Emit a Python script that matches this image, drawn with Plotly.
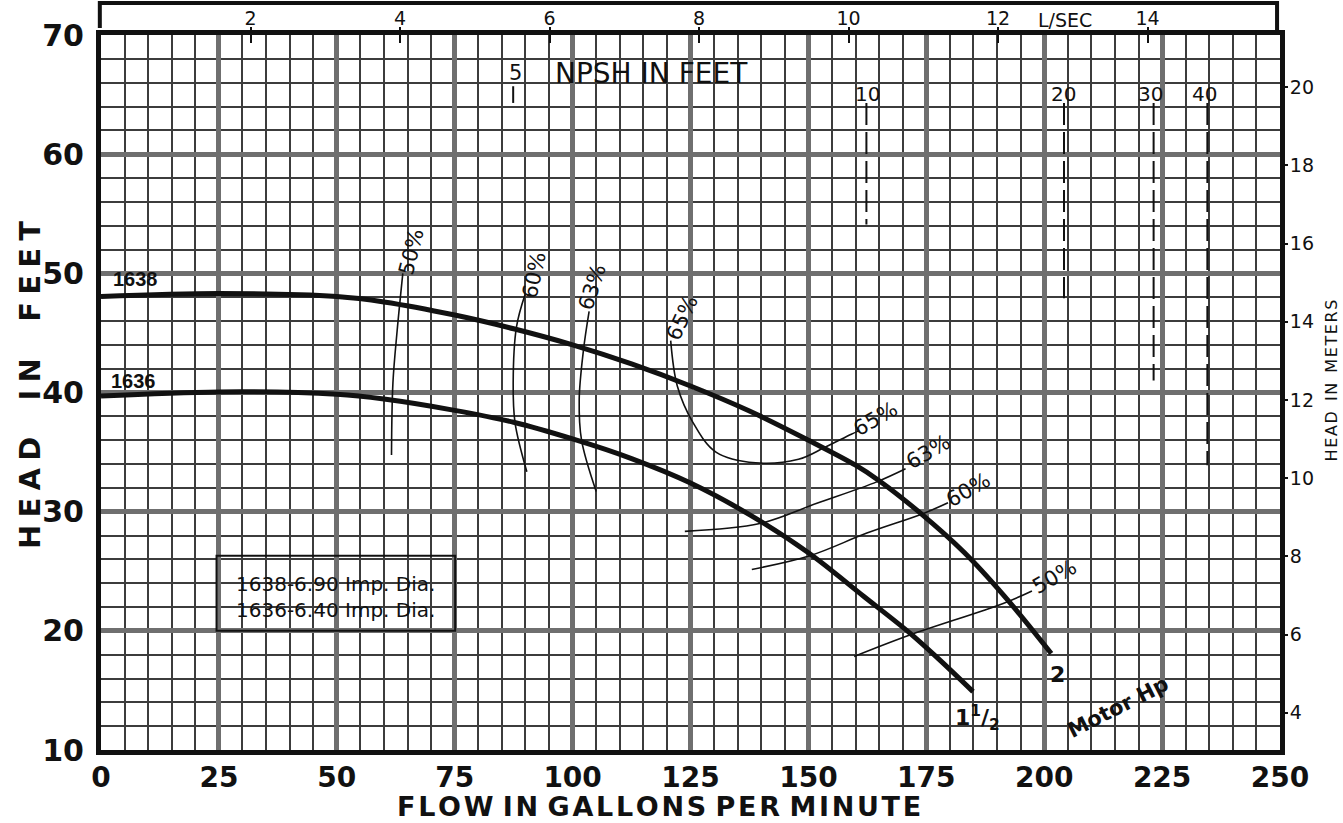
import plotly.graph_objects as go

# ---------------- data ----------------
# Pump curves (flow gpm, head ft)
q_1638 = [0, 25, 50, 60, 75, 87.5, 100, 112.5, 125, 137.5, 150, 160, 165, 174, 183, 191.6, 201.5]
h_1638 = [48.05, 48.3, 48.05, 47.6, 46.5, 45.35, 44.0, 42.4, 40.55, 38.45, 36.0, 33.9, 32.6, 29.8, 26.6, 22.9, 18.1]
q_1636 = [0, 25, 50, 60, 75, 87.5, 100, 112.5, 125, 137.5, 150, 161.7, 171.7, 178, 184.9]
h_1636 = [39.7, 40.05, 39.85, 39.45, 38.5, 37.5, 36.1, 34.45, 32.4, 29.75, 26.55, 22.9, 19.75, 17.5, 14.9]

# Efficiency iso-lines
e50a_q = [64.0, 62.8, 61.9, 61.6]
e50a_h = [50.0, 45.2, 40.8, 34.75]
e60a_q = [89.9, 88.1, 87.4, 87.8, 90.3]
e60a_h = [48.2, 45.5, 40.8, 37.45, 33.35]
e63a_q = [103.5, 102.3, 101.4, 101.9, 105.0]
e63a_h = [46.8, 43.55, 39.4, 36.0, 31.7]
e65_q = [120.8, 122.2, 125.5, 130.4, 138.8, 147.9, 153.5, 159.1, 160.8]
e65_h = [44.35, 40.55, 37.5, 35.0, 34.1, 34.4, 35.4, 36.5, 36.8]
e63b_q = [123.8, 139.7, 151.8, 164.5, 170.6]
e63b_h = [28.35, 29.0, 30.7, 32.5, 33.6]
e60b_q = [138.0, 150.3, 162.4, 174.4, 179.6]
e60b_h = [25.15, 26.3, 28.2, 29.85, 30.75]
e50b_q = [159.7, 171.5, 191.3, 197.4]
e50b_h = [17.85, 19.65, 22.3, 23.35]

# Efficiency labels
eff_text = ["50%", "60%", "63%", "65%", "65%", "63%", "60%", "50%"]
eff_lab_q = [65.8, 91.8, 104.2, 123.4, 164.2, 175.4, 183.9, 202.1]
eff_lab_h = [51.8, 49.9, 48.85, 46.3, 37.8, 35.0, 31.8, 24.55]
eff_lab_ang = [-76, -78, -72, -65, -30, -30, -30, -30]

# NPSH required (ft) markers
npsh_val = [10, 20, 30, 40]
npsh_q = [162.3, 204.2, 223.2, 234.6]
npsh_lab_q = [162.5, 204.0, 222.6, 234.0]
npsh_lab_h = 65.05
npsh_top = [64.3, 64.3, 64.3, 64.3]
npsh_bot = [54.1, 47.9, 41.0, 33.9]
npsh5_q = 87.4
npsh5_top, npsh5_bot = 65.7, 64.3

# Axes
x_ticks = [0, 25, 50, 75, 100, 125, 150, 175, 200, 225, 250]
y_ticks = [10, 20, 30, 40, 50, 60, 70]
lps_ticks = [2, 4, 6, 8, 10, 12, 14]
m_ticks = [4, 6, 8, 10, 12, 14, 16, 18, 20]
GPM_TO_LPS = 0.0630902
FT_TO_M = 0.3048
X_RANGE = [0, 250]
Y_RANGE = [10, 70]

# Legend box
box_q = [24.5, 75.1]
box_h = [20.0, 26.3]
box_lines = ["1638-6.90 Imp. Dia.", "1636-6.40 Imp. Dia."]

# ---------------- figure ----------------
fig = go.Figure()
BLACK = "#111111"

for q, h in [(q_1638, h_1638), (q_1636, h_1636)]:
    fig.add_trace(go.Scatter(x=q, y=h, mode="lines", line=dict(color=BLACK, width=5, shape="spline", smoothing=1.0),
                             hoverinfo="skip", showlegend=False))

for q, h in [(e50a_q, e50a_h), (e60a_q, e60a_h), (e63a_q, e63a_h), (e65_q, e65_h),
             (e63b_q, e63b_h), (e60b_q, e60b_h), (e50b_q, e50b_h)]:
    fig.add_trace(go.Scatter(x=q, y=h, mode="lines", line=dict(color=BLACK, width=1.6, shape="spline", smoothing=1.0),
                             hoverinfo="skip", showlegend=False))

for v, q, t, b in zip(npsh_val, npsh_q, npsh_top, npsh_bot):
    fig.add_trace(go.Scatter(x=[q, q], y=[t, b], mode="lines", line=dict(color=BLACK, width=2, dash="22px,7px"),
                             hoverinfo="skip", showlegend=False))
fig.add_trace(go.Scatter(x=[npsh5_q, npsh5_q], y=[npsh5_top, npsh5_bot], mode="lines",
                         line=dict(color=BLACK, width=2), hoverinfo="skip", showlegend=False))

# invisible anchors for secondary axes
LPS_RANGE = [X_RANGE[0] * GPM_TO_LPS, X_RANGE[1] * GPM_TO_LPS]
M_RANGE = [Y_RANGE[0] * FT_TO_M, Y_RANGE[1] * FT_TO_M]
for xa in ["x2", "x3"]:
    fig.add_trace(go.Scatter(x=LPS_RANGE, y=Y_RANGE, xaxis=xa, yaxis="y", mode="lines", line=dict(width=0),
                             hoverinfo="skip", showlegend=False))
fig.add_trace(go.Scatter(x=X_RANGE, y=M_RANGE, xaxis="x", yaxis="y2", mode="lines", line=dict(width=0),
                         hoverinfo="skip", showlegend=False))

FONT = "DejaVu Sans"
C = dict(xanchor="center", yanchor="middle", showarrow=False)
ann = []
for t, q, h, a in zip(eff_text, eff_lab_q, eff_lab_h, eff_lab_ang):
    ann.append(dict(x=q, y=h, text=t, textangle=a, font=dict(family=FONT, size=21, color=BLACK), **C))

for v, q in zip(npsh_val, npsh_lab_q):
    ann.append(dict(x=q, y=npsh_lab_h, text=str(v), font=dict(family=FONT, size=20, color=BLACK), **C))
ann.append(dict(x=npsh5_q + 0.5, y=66.8, text="5", font=dict(family=FONT, size=21, color=BLACK), **C))
ann.append(dict(x=116.7, y=66.8, text="NPSH IN FEET", font=dict(family=FONT, size=28, color=BLACK), **C))

ann.append(dict(x=7.35, y=49.5, text="<b>1638</b>", font=dict(family="Liberation Sans", size=20, color=BLACK), **C))
ann.append(dict(x=6.9, y=41.0, text="<b>1636</b>", font=dict(family="Liberation Sans", size=20, color=BLACK), **C))

ann.append(dict(x=sum(box_q) / 2, y=23.95, text=box_lines[0], font=dict(family=FONT, size=20, color=BLACK), **C))
ann.append(dict(x=sum(box_q) / 2, y=21.75, text=box_lines[1], font=dict(family=FONT, size=20, color=BLACK), **C))

ann.append(dict(x=185.8, y=12.7, text="<b>1<sup>1</sup>/<sub>2</sub></b>", font=dict(family=FONT, size=22, color=BLACK), **C))
ann.append(dict(x=202.8, y=16.3, text="<b>2</b>", font=dict(family=FONT, size=22, color=BLACK), **C))
ann.append(dict(x=215.7, y=13.6, text="<b>Motor Hp</b>", textangle=-27, font=dict(family=FONT, size=21, color=BLACK), **C))

ann.append(dict(x=12.9, xref="x2", y=1.021, yref="paper", text="L/SEC", font=dict(family=FONT, size=19, color=BLACK), **C))

HS = "\u200a"
ann.append(dict(x=0.4729, xref="paper", y=-0.0785, yref="paper",
                text="<b>" + " ".join(HS.join(w) for w in ["FLOW", "IN", "GALLONS", "PER", "MINUTE"]) + "</b>",
                font=dict(family=FONT, size=27, color=BLACK), **C))
LS = "\u2005"
WS = "\u2003\u2005"
ann.append(dict(x=-0.0602, xref="paper", y=0.5105, yref="paper",
                text="<b>" + WS.join(LS.join(w) for w in ["HEAD", "IN", "FEET"]) + "</b>",
                textangle=-90, font=dict(family=FONT, size=29, color=BLACK), **C))
ann.append(dict(x=1.0445, xref="paper", y=0.5175, yref="paper",
                text="  ".join(HS.join(w) for w in ["HEAD", "IN", "METERS"]),
                textangle=-90, font=dict(family=FONT, size=16, color=BLACK), **C))

shapes = [
    dict(type="rect", xref="x", yref="y", x0=box_q[0], x1=box_q[1], y0=box_h[0], y1=box_h[1],
         line=dict(color=BLACK, width=2)),
    dict(type="path", xref="paper", yref="paper", path="M -0.001,1.0098 L -0.001,1.0448 L 0.9975,1.0448 L 0.9975,1.007",
         line=dict(color=BLACK, width=4)),
]

fig.update_layout(
    width=1343, height=823,
    margin=dict(l=101, r=63, t=35, b=73, autoexpand=False),
    paper_bgcolor="white", plot_bgcolor="white",
    showlegend=False,
    annotations=ann, shapes=shapes,
    xaxis=dict(range=X_RANGE, tickvals=x_ticks, showgrid=True, gridcolor="#6f6f6f", gridwidth=4.5,
               minor=dict(dtick=5, tick0=0, showgrid=True, gridcolor="#3c3c3c", gridwidth=1.6),
               showline=True, linewidth=5, linecolor=BLACK, mirror=True, zeroline=False, ticks="",
               automargin=False,
               tickfont=dict(family=FONT, size=28, color=BLACK, weight="bold"), ticklabelstandoff=-2),
    yaxis=dict(range=Y_RANGE, tickvals=y_ticks, showgrid=True, gridcolor="#6f6f6f", gridwidth=4.5,
               minor=dict(dtick=2, tick0=0, showgrid=True, gridcolor="#3c3c3c", gridwidth=1.6),
               showline=True, linewidth=5, linecolor=BLACK, mirror=True, zeroline=False, ticks="",
               automargin=False,
               tickfont=dict(family=FONT, size=30, color=BLACK, weight="bold"), ticklabelstandoff=6),
    xaxis2=dict(overlaying="x", side="top", anchor="y", range=LPS_RANGE,
                tickvals=lps_ticks, ticks="outside", ticklen=7, tickwidth=2, tickcolor=BLACK,
                showgrid=False, zeroline=False, showline=False, automargin=False,
                tickfont=dict(family=FONT, size=19, color=BLACK), ticklabelstandoff=-6),
    xaxis3=dict(overlaying="x", side="top", anchor="y", range=LPS_RANGE,
                tickvals=lps_ticks, ticks="inside", ticklen=8, tickwidth=2, tickcolor=BLACK,
                showticklabels=False, showgrid=False, zeroline=False, showline=False, automargin=False),
    yaxis2=dict(overlaying="y", side="right", anchor="x", range=M_RANGE,
                tickvals=m_ticks, ticks="outside", ticklen=7, tickwidth=2, tickcolor=BLACK,
                showgrid=False, zeroline=False, showline=False, automargin=False,
                tickfont=dict(family=FONT, size=19, color=BLACK), ticklabelstandoff=-2),
)

fig.write_html("out.html", config={"displayModeBar": False},
               post_script="document.body.style.margin='0px';")
